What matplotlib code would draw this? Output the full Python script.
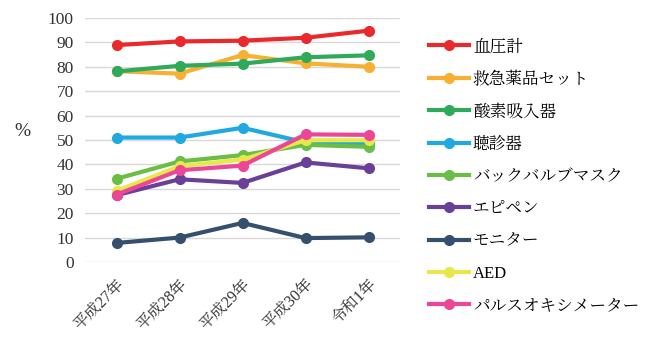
import matplotlib.pyplot as plt

FAMILY = ['Liberation Serif', 'Noto Serif CJK JP', 'Noto Sans CJK JP']
plt.rcParams['font.family'] = FAMILY

years = ['平成27年', '平成28年', '平成29年', '平成30年', '令和1年']

blood_pressure = [88.9, 90.4, 90.7, 91.9, 94.8]
first_aid_kit = [78.2, 77.2, 84.8, 81.4, 80.0]
oxygen = [78.1, 80.4, 81.3, 83.9, 84.7]
stethoscope = [51.0, 51.0, 55.0, 49.0, 48.6]
bag_valve_mask = [34.1, 41.2, 43.8, 48.0, 47.2]
epipen = [27.4, 33.9, 32.4, 40.8, 38.4]
monitor = [7.8, 10.0, 16.0, 9.8, 10.1]
aed = [29.1, 39.3, 42.0, 49.9, 49.9]
pulse_oximeter = [27.6, 37.6, 39.5, 52.3, 52.1]

series = [
    ('血圧計', blood_pressure, '#E9292C'),
    ('救急薬品セット', first_aid_kit, '#F7B032'),
    ('酸素吸入器', oxygen, '#2FA95A'),
    ('聴診器', stethoscope, '#20A9E1'),
    ('バックバルブマスク', bag_valve_mask, '#6BBE45'),
    ('エピペン', epipen, '#6A3F98'),
    ('モニター', monitor, '#35506F'),
    ('AED', aed, '#E9E84B'),
    ('パルスオキシメーター', pulse_oximeter, '#EC4696'),
]

fig = plt.figure(figsize=(6.61, 3.37), dpi=100)
ax = fig.add_axes([0.1286, 0.2226, 0.4766, 0.724])

x = range(len(years))
for name, vals, col in series:
    ax.plot(x, vals, color=col, lw=3, marker='o', ms=7, label=name)

ax.set_xlim(-0.5, 4.5)
ax.set_ylim(0, 100)
ax.set_yticks(range(0, 101, 10))
ax.set_yticklabels([str(v) for v in range(0, 101, 10)], family=FAMILY, fontsize=12.5)
ax.set_xticks(list(x))
ax.set_xticklabels(years, rotation=45, ha='right', va='top', rotation_mode='anchor',
                   family=FAMILY, fontsize=11.5)
ax.tick_params(axis='y', length=0, colors='#333333', pad=8)
ax.tick_params(axis='x', length=0, colors='#333333', pad=10)
ax.grid(axis='y', color='#D9D9D9', lw=1)
ax.set_axisbelow(True)
for s in ax.spines.values():
    s.set_visible(False)

ax.set_ylabel('%', rotation=0, fontsize=14, color='#333333', family=FAMILY)
ax.yaxis.set_label_coords(-0.2, 0.5)

ax.legend(loc='upper left', bbox_to_anchor=(1.07, 0.94), frameon=False,
          prop={'family': FAMILY, 'size': 12},
          labelspacing=0.98, handlelength=2.4, handletextpad=0.25, borderaxespad=0)

fig.savefig('out.png', dpi=100)
